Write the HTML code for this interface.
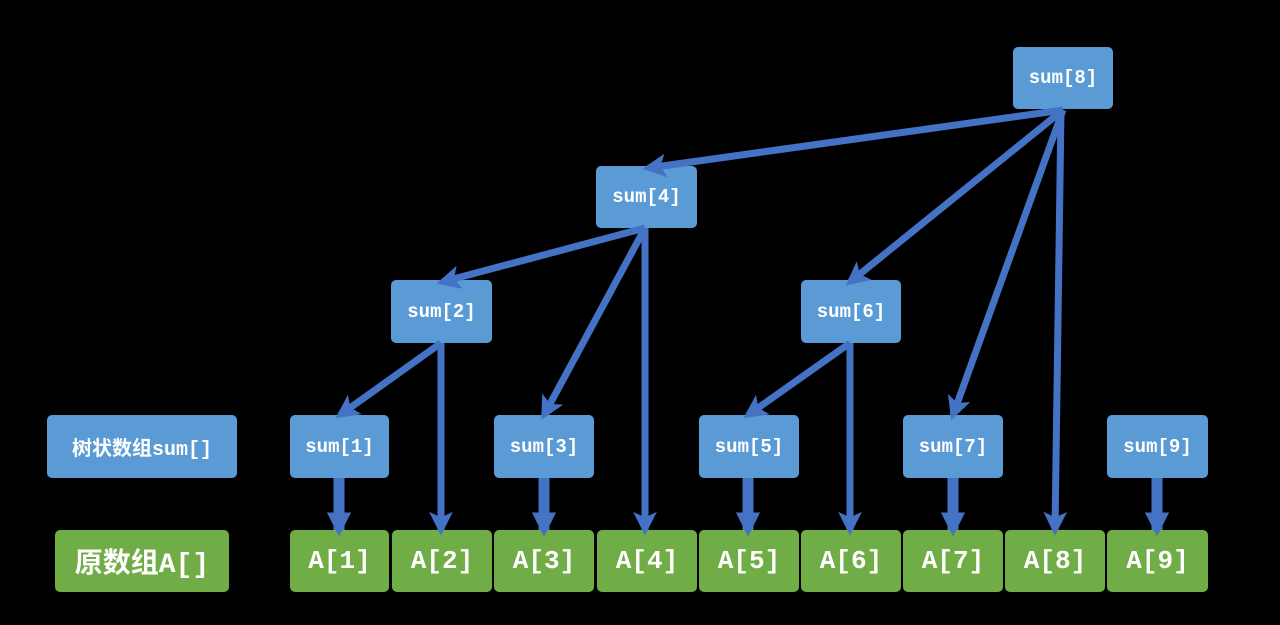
<!DOCTYPE html>
<html><head><style>
body{margin:0;width:1280px;height:625px;background:#000;position:relative;overflow:hidden}
.b{position:absolute;border-radius:5px;color:#fff;display:flex;align-items:center;justify-content:center;font-family:"Liberation Mono","Noto Sans CJK SC",monospace;font-weight:bold}
.s{background:#5b9bd5;font-size:19px}
.a{background:#70ad47;font-size:26px}
svg{position:absolute;left:0;top:0}
</style></head><body>
<div class="b s" style="left:47px;top:415px;width:190px;height:63px;font-size:20px;font-family:'Liberation Mono','Noto Sans CJK SC',sans-serif">树状数组sum[]</div>
<div class="b a" style="left:55px;top:530px;width:174px;height:62px;font-size:28px;font-family:'Liberation Mono','Noto Sans CJK SC',sans-serif">原数组A[]</div>
<div class="b s" style="left:1013px;top:47px;width:100px;height:62px">sum[8]</div>
<div class="b s" style="left:596px;top:166px;width:101px;height:62px">sum[4]</div>
<div class="b s" style="left:391px;top:280px;width:101px;height:63px">sum[2]</div>
<div class="b s" style="left:801px;top:280px;width:100px;height:63px">sum[6]</div>
<div class="b s" style="left:290px;top:415px;width:99px;height:63px">sum[1]</div>
<div class="b s" style="left:494px;top:415px;width:100px;height:63px">sum[3]</div>
<div class="b s" style="left:699px;top:415px;width:100px;height:63px">sum[5]</div>
<div class="b s" style="left:903px;top:415px;width:100px;height:63px">sum[7]</div>
<div class="b s" style="left:1107px;top:415px;width:101px;height:63px">sum[9]</div>
<div class="b a" style="left:290px;top:530px;width:99px;height:62px">A[1]</div>
<div class="b a" style="left:392px;top:530px;width:100px;height:62px">A[2]</div>
<div class="b a" style="left:494px;top:530px;width:100px;height:62px">A[3]</div>
<div class="b a" style="left:597px;top:530px;width:100px;height:62px">A[4]</div>
<div class="b a" style="left:699px;top:530px;width:100px;height:62px">A[5]</div>
<div class="b a" style="left:801px;top:530px;width:100px;height:62px">A[6]</div>
<div class="b a" style="left:903px;top:530px;width:100px;height:62px">A[7]</div>
<div class="b a" style="left:1005px;top:530px;width:100px;height:62px">A[8]</div>
<div class="b a" style="left:1107px;top:530px;width:101px;height:62px">A[9]</div>
<svg width="1280" height="625">
<defs><marker id="m" markerWidth="3.4" markerHeight="3.4" refX="2.6" refY="1.7" orient="auto" markerUnits="strokeWidth"><path d="M0,0L3.4,1.7L0,3.4L0.8,1.7z" fill="#4472c4"/></marker>
<marker id="m2" markerWidth="2.2" markerHeight="2.2" refX="1.6" refY="1.1" orient="auto" markerUnits="strokeWidth"><path d="M0,0L2.2,1.1L0,2.2z" fill="#4472c4"/></marker></defs>
<g stroke="#4472c4" stroke-width="7" fill="none" marker-end="url(#m)">
<line x1="1063" y1="110" x2="648" y2="168"/>
<line x1="1063" y1="110" x2="850" y2="282"/>
<line x1="1063" y1="110" x2="953" y2="415"/>
<line x1="1061" y1="110" x2="1055" y2="530"/>
<line x1="645" y1="228" x2="442" y2="282"/>
<line x1="645" y1="228" x2="544" y2="415"/>
<line x1="645" y1="228" x2="645" y2="530"/>
<line x1="441" y1="343" x2="340" y2="415"/>
<line x1="441" y1="343" x2="441" y2="530"/>
<line x1="850" y1="343" x2="748" y2="415"/>
<line x1="850" y1="343" x2="850" y2="530"/>
</g>
<g stroke="#4472c4" stroke-width="11" fill="none" marker-end="url(#m2)">
<line x1="339" y1="478" x2="339" y2="530"/>
<line x1="544" y1="478" x2="544" y2="530"/>
<line x1="748" y1="478" x2="748" y2="530"/>
<line x1="953" y1="478" x2="953" y2="530"/>
<line x1="1157" y1="478" x2="1157" y2="530"/>
</g>
</svg>
</body></html>
